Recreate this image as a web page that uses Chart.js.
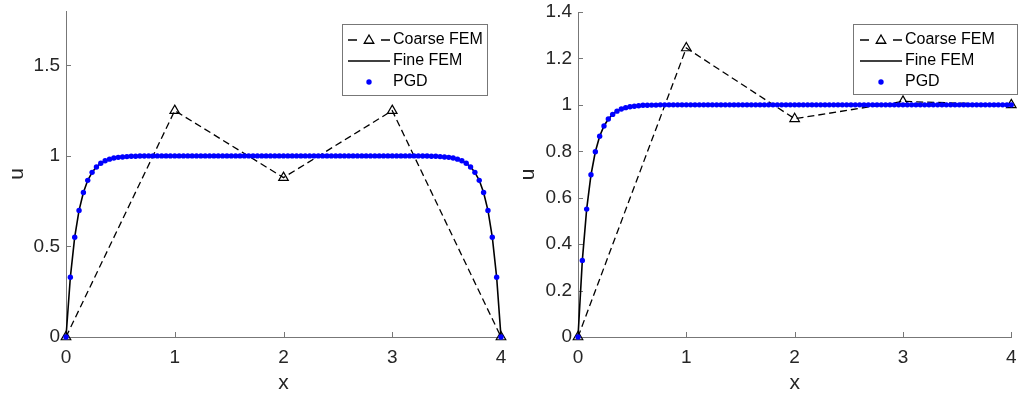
<!DOCTYPE html>
<html>
<head>
<meta charset="utf-8">
<script src="https://cdn.jsdelivr.net/npm/chart.js@4.4.1/dist/chart.umd.min.js"></script>
<style>
  html, body { margin: 0; padding: 0; background: #fff; }
  #wrap { position: relative; width: 1018px; height: 400px; overflow: hidden; }
  canvas { position: absolute; top: 0; }
  #left { left: 0; }
  #right { left: 509px; }
</style>
</head>
<body>
<div id="wrap">
  <canvas id="left" width="509" height="400"></canvas>
  <canvas id="right" width="509" height="400"></canvas>
</div>
<script>
// ---- data ----
const gridX = [
  0, 0.04, 0.08, 0.12, 0.16, 0.2, 0.24, 0.28, 0.32, 0.36,
  0.4, 0.44, 0.48, 0.52, 0.56, 0.6, 0.64, 0.68, 0.72, 0.76,
  0.8, 0.84, 0.88, 0.92, 0.96, 1, 1.04, 1.08, 1.12, 1.16,
  1.2, 1.24, 1.28, 1.32, 1.36, 1.4, 1.44, 1.48, 1.52, 1.56,
  1.6, 1.64, 1.68, 1.72, 1.76, 1.8, 1.84, 1.88, 1.92, 1.96,
  2, 2.04, 2.08, 2.12, 2.16, 2.2, 2.24, 2.28, 2.32, 2.36,
  2.4, 2.44, 2.48, 2.52, 2.56, 2.6, 2.64, 2.68, 2.72, 2.76,
  2.8, 2.84, 2.88, 2.92, 2.96, 3, 3.04, 3.08, 3.12, 3.16,
  3.2, 3.24, 3.28, 3.32, 3.36, 3.4, 3.44, 3.48, 3.52, 3.56,
  3.6, 3.64, 3.68, 3.72, 3.76, 3.8, 3.84, 3.88, 3.92, 3.96,
  4
];

// PGD solution (the fine FEM curve lies on the same points)
const pgdLeft = [
  0, 0.330, 0.551, 0.699, 0.798, 0.865, 0.909, 0.939, 0.959, 0.973,
  0.982, 0.988, 0.992, 0.994, 0.996, 0.998, 0.998, 0.999, 0.999, 1,
  1, 1, 1, 1, 1, 1, 1, 1, 1, 1,
  1, 1, 1, 1, 1, 1, 1, 1, 1, 1,
  1, 1, 1, 1, 1, 1, 1, 1, 1, 1,
  1, 1, 1, 1, 1, 1, 1, 1, 1, 1,
  1, 1, 1, 1, 1, 1, 1, 1, 1, 1,
  1, 1, 1, 1, 1, 1, 1, 1, 1, 1,
  1, 1, 0.999, 0.999, 0.998, 0.998, 0.996, 0.994, 0.992, 0.988,
  0.982, 0.973, 0.959, 0.939, 0.909, 0.865, 0.798, 0.699, 0.551, 0.330,
  0
];
const pgdRight = [
  0, 0.330, 0.551, 0.699, 0.798, 0.865, 0.909, 0.939, 0.959, 0.973,
  0.982, 0.988, 0.992, 0.994, 0.996, 0.998, 0.998, 0.999, 0.999, 1,
  1, 1, 1, 1, 1, 1, 1, 1, 1, 1,
  1, 1, 1, 1, 1, 1, 1, 1, 1, 1,
  1, 1, 1, 1, 1, 1, 1, 1, 1, 1,
  1, 1, 1, 1, 1, 1, 1, 1, 1, 1,
  1, 1, 1, 1, 1, 1, 1, 1, 1, 1,
  1, 1, 1, 1, 1, 1, 1, 1, 1, 1,
  1, 1, 1, 1, 1, 1, 1, 1, 1, 1,
  1, 1, 1, 1, 1, 1, 1, 1, 1, 1,
  1
];
const fineLeft = pgdLeft;
const fineRight = pgdRight;

const coarseX = [0, 1, 2, 3, 4];
const coarseLeft = [0, 1.25, 0.88, 1.25, 0];
const coarseRight = [0, 1.245, 0.94, 1.015, 1];

const xTicks = [0, 1, 2, 3, 4];
const yTicksLeft = [0, 0.5, 1, 1.5];
const yTicksRight = [0, 0.2, 0.4, 0.6, 0.8, 1, 1.2, 1.4];
const seriesNames = ['Coarse FEM', 'Fine FEM', 'PGD'];

// ---- styling ----
const AXIS_GREY = '#777777';
const TEXT_GREY = '#262626';
const PGD_BLUE = '#0000ff';
const FONT = "'Liberation Sans', Arial, Helvetica, sans-serif";

function toPoints(xs, ys) {
  return xs.map((x, i) => ({ x: x, y: ys[i] }));
}

// MATLAB-style ticks pointing into the plot
const innerTicks = {
  id: 'innerTicks',
  beforeDatasetsDraw(chart) {
    const { ctx, chartArea, scales } = chart;
    ctx.save();
    ctx.strokeStyle = AXIS_GREY;
    ctx.lineWidth = 1;
    ctx.beginPath();
    scales.x.ticks.forEach(t => {
      const px = Math.round(scales.x.getPixelForValue(t.value)) + 0.5;
      ctx.moveTo(px, chartArea.bottom);
      ctx.lineTo(px, chartArea.bottom - 5);
    });
    scales.y.ticks.forEach(t => {
      const py = Math.round(scales.y.getPixelForValue(t.value)) + 0.5;
      ctx.moveTo(chartArea.left, py);
      ctx.lineTo(chartArea.left + 5, py);
    });
    ctx.stroke();
    ctx.restore();
  }
};

function drawTriangle(ctx, x, y, r) {
  ctx.beginPath();
  ctx.moveTo(x, y - r);
  ctx.lineTo(x + r * 0.866, y + r * 0.5);
  ctx.lineTo(x - r * 0.866, y + r * 0.5);
  ctx.closePath();
  ctx.stroke();
}

// boxed legend with line + marker samples
const boxLegend = {
  id: 'boxLegend',
  afterDraw(chart, args, opts) {
    const ctx = chart.ctx;
    const [x0, y0, x1, y1] = opts.box;
    const [s0, s1] = opts.sample;
    const mid = (s0 + s1) / 2;
    ctx.save();
    ctx.fillStyle = '#fff';
    ctx.fillRect(x0, y0, x1 - x0, y1 - y0);
    ctx.strokeStyle = AXIS_GREY;
    ctx.lineWidth = 1;
    ctx.strokeRect(x0 + 0.5, y0 + 0.5, x1 - x0, y1 - y0);

    const [r0, r1, r2] = opts.rows;
    // coarse: dash, triangle, dash
    ctx.strokeStyle = '#000';
    ctx.lineWidth = 1.3;
    ctx.beginPath();
    ctx.moveTo(s0, r0); ctx.lineTo(s0 + 9, r0);
    ctx.moveTo(s1 - 9, r0); ctx.lineTo(s1, r0);
    ctx.stroke();
    drawTriangle(ctx, mid, r0 + 0.5, 5.5);
    // fine: solid
    ctx.lineWidth = 1.6;
    ctx.beginPath();
    ctx.moveTo(s0, r1); ctx.lineTo(s1, r1);
    ctx.stroke();
    // pgd: dot
    ctx.fillStyle = PGD_BLUE;
    ctx.beginPath();
    ctx.arc(mid, r2, 2.7, 0, Math.PI * 2);
    ctx.fill();

    ctx.fillStyle = '#000';
    ctx.font = '16px ' + FONT;
    ctx.textAlign = 'left';
    ctx.textBaseline = 'middle';
    seriesNames.forEach((name, i) => ctx.fillText(name, opts.textX, opts.rows[i]));
    ctx.restore();
  }
};

function makeChart(canvasId, cfg) {
  const ctx = document.getElementById(canvasId).getContext('2d');
  return new Chart(ctx, {
    type: 'line',
    data: {
      datasets: [
        {
          label: 'PGD',
          data: toPoints(gridX, cfg.pgd),
          showLine: false,
          pointRadius: 2.7,
          pointBackgroundColor: PGD_BLUE,
          pointBorderWidth: 0,
          borderColor: PGD_BLUE,
          clip: false,
          order: 0
        },
        {
          label: 'Fine FEM',
          data: toPoints(gridX, cfg.fine),
          borderColor: '#000',
          borderWidth: 1.6,
          pointRadius: 0,
          tension: 0,
          clip: false,
          order: 1
        },
        {
          label: 'Coarse FEM',
          data: toPoints(coarseX, cfg.coarse),
          borderColor: '#000',
          borderWidth: 1.3,
          borderDash: [7, 4],
          pointStyle: 'triangle',
          pointRadius: 5.5,
          pointBackgroundColor: 'rgba(0,0,0,0)',
          pointBorderColor: '#000',
          pointBorderWidth: 1.2,
          clip: false,
          order: 2
        }
      ]
    },
    options: {
      responsive: false,
      animation: false,
      devicePixelRatio: 1,
      layout: { padding: { top: cfg.padTop, right: cfg.padRight, left: 0, bottom: 0 } },
      plugins: {
        legend: { display: false },
        tooltip: { enabled: false },
        boxLegend: cfg.legend
      },
      scales: {
        x: {
          type: 'linear',
          min: 0,
          max: 4,
          afterBuildTicks: s => { s.ticks = xTicks.map(v => ({ value: v })); },
          afterFit: s => {
            s.height = 63;
            s.paddingLeft = 0; s.paddingRight = 0;
          },
          grid: { display: false, drawTicks: false },
          border: { display: true, color: AXIS_GREY, width: 1 },
          ticks: {
            padding: 9,
            color: TEXT_GREY,
            font: { family: FONT, size: 19 },
            callback: v => String(v)
          },
          title: {
            display: true,
            text: 'x',
            color: TEXT_GREY,
            font: { family: FONT, size: 21, lineHeight: 1 },
            padding: { top: 0, bottom: 6 }
          }
        },
        y: {
          type: 'linear',
          min: 0,
          max: cfg.yMax,
          afterBuildTicks: s => { s.ticks = cfg.yTicks.map(v => ({ value: v })); },
          afterFit: s => {
            s.width = cfg.axisWidth;
            s.paddingTop = 0; s.paddingBottom = 0;
          },
          grid: { display: false, drawTicks: false },
          border: { display: true, color: AXIS_GREY, width: 1 },
          ticks: {
            padding: 6,
            color: TEXT_GREY,
            font: { family: FONT, size: 19 },
            callback: v => String(v)
          },
          title: {
            display: true,
            text: 'u',
            color: TEXT_GREY,
            font: { family: FONT, size: 21, lineHeight: 1 },
            padding: { top: cfg.titlePad, bottom: 0 }
          }
        }
      }
    },
    plugins: [innerTicks, boxLegend]
  });
}

makeChart('left', {
  pgd: pgdLeft,
  fine: fineLeft,
  coarse: coarseLeft,
  yMax: 1.8,
  yTicks: yTicksLeft,
  padTop: 11,
  padRight: 8,
  axisWidth: 66,
  titlePad: 6.5,
  legend: { box: [342, 24, 487, 95], sample: [348, 390], textX: 393, rows: [40, 61, 82] }
});

makeChart('right', {
  pgd: pgdRight,
  fine: fineRight,
  coarse: coarseRight,
  yMax: 1.4,
  yTicks: yTicksRight,
  padTop: 12,
  padRight: 6,
  axisWidth: 69,
  titlePad: 8.5,
  legend: { box: [344, 24, 508, 94], sample: [351, 393], textX: 396, rows: [40, 61, 82] }
});
</script>
</body>
</html>
